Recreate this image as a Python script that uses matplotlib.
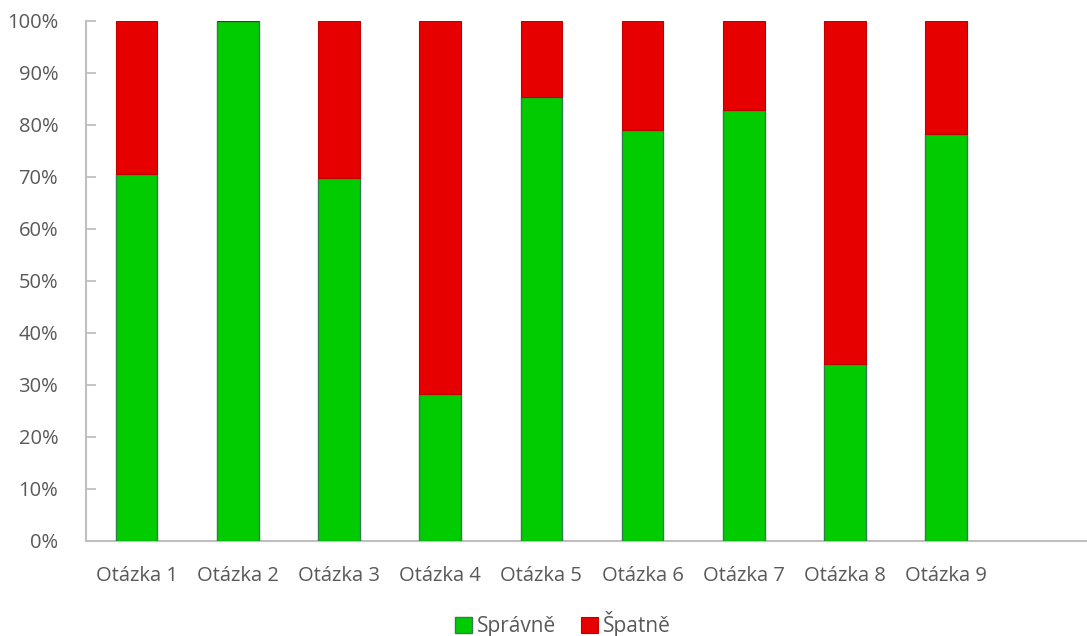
import matplotlib
matplotlib.use("Agg")
import matplotlib.pyplot as plt
from matplotlib.ticker import FuncFormatter

categories = ["Otázka 1", "Otázka 2", "Otázka 3", "Otázka 4", "Otázka 5",
              "Otázka 6", "Otázka 7", "Otázka 8", "Otázka 9"]
spravne = [70.6, 100.0, 69.8, 28.3, 85.4, 79.0, 82.9, 34.0, 78.3]
spatne = [100 - v for v in spravne]

plt.rcParams['font.family'] = ['Open Sans', 'DejaVu Sans']
txt = '#595959'
fs = 14.5

fig = plt.figure(figsize=(10.87, 6.36), dpi=100)
ax = fig.add_axes([86/1087, 1 - 541/636, 1 - 86/1087, (541 - 21)/636])

x = list(range(len(categories)))
w = 0.41
ax.bar(x, spravne, width=w, color='#00CC00', edgecolor='#2E7D4F', linewidth=1.0,
       label='Správně', zorder=3)
ax.bar(x, spatne, width=w, bottom=spravne, color='#E60000', edgecolor='#C00000',
       linewidth=0.8, label='Špatně', zorder=3)

ax.set_xlim(-0.5, -0.5 + 1001/101.2)
ax.set_ylim(0, 100)
ax.set_yticks(range(0, 101, 10))
ax.yaxis.set_major_formatter(FuncFormatter(lambda v, p: f"{int(v)}%"))
ax.set_xticks(x)
ax.set_xticklabels(categories)

for s in ['top', 'right']:
    ax.spines[s].set_visible(False)
for s in ['left', 'bottom']:
    ax.spines[s].set_color('#BFBFBF')
    ax.spines[s].set_linewidth(1.5)

ax.tick_params(axis='y', direction='in', length=7, color='#BFBFBF', width=1.3,
               labelsize=fs, labelcolor=txt, pad=20)
ax.tick_params(axis='x', length=0, labelsize=fs, labelcolor=txt, pad=18)

leg = ax.legend(loc='center', bbox_to_anchor=(563/1087, 1 - 624/636),
                bbox_transform=fig.transFigure, ncol=2, frameon=False,
                fontsize=15, handlelength=0.8, handleheight=0.8,
                handletextpad=0.25, columnspacing=1.2)
for t in leg.get_texts():
    t.set_color(txt)

fig.savefig('out.png', dpi=100)
